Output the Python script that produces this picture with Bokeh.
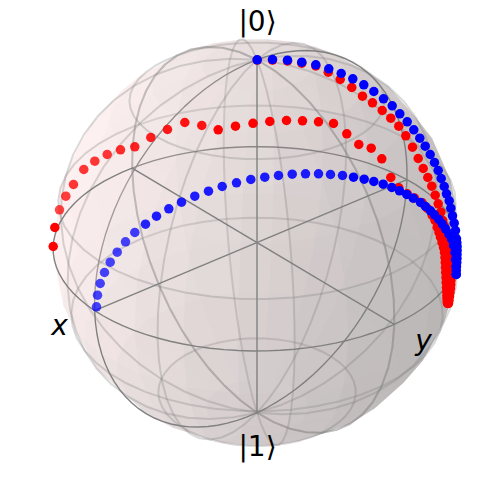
import numpy as np
from bokeh.plotting import figure
from bokeh.models import Range1d
from bokeh.embed import file_html
from bokeh.resources import INLINE
from bokeh.core.properties import value

# projected marker positions
red_arc_x = [52.7,54.3,59,65.3,73,83.3,94.3,106.7,120,134.3,150.3,167,184.3,201.3,217.7,235,252.5,269.3,286,302,318,333,346.3,358.3,370.7,381.3,390.3,398.3,406.7,414,421.7,427,431.7,434.5,436.7,438.5,440,441.5,443,444,444.5,444.8,445,445.2,445.5,445.7,446,446.2,446.4,446.5,446.7,447]
red_arc_y = [246,227,209.3,195.7,184,169,160.7,154,149.3,146.3,137,129,122,125,129.3,125.7,122.8,121,120,120.3,121.3,123,133.3,144,147.7,158.3,177,187.3,193.3,197.5,202.3,208,215,220,226.7,232,236.7,242,247,252,257,262,267,272,277,282,287,291,295,298,301,303]
red_top_x = [256.7,272,287,301.3,315.3,327.7,339.7,351.3,362,372,381.7,390.3,398.3,405.3,412,417.7,422.7,427.3,431.3,434.7,437.7,440.3,442.3,443.7,445,446,447,448,449,449.5,450,450.3,450.5,450.5,450.5,450.3,450,449.5,449,448.5,448]
red_top_y = [59.6,59.6,60.5,62.7,65.5,71.7,79,87,95.7,102.3,110,117.7,125.7,135.3,146.7,158,168,177,185.7,194.7,203.3,211.7,220,225,230,235,240,245,250,255,260,265,270,275,280,284,288,292,296,300,303]
blue_top_x = [256.7,272,287,301.3,315.3,328.3,340.7,352.3,363.3,373.3,383,391.7,399.3,406.7,413.3,419.3,424.7,429.7,434,437.7,440.7,443.7,446,448.7,450.3,452,453.7,455,456,456.3,456.5,456.5,456.5,456.5,456.3,456,455.8,455.7]
blue_top_y = [59.3,59,59.7,61.7,64.3,68.3,73,78.3,84.3,91,98.3,105.3,113.3,121.3,129.3,137.7,145.7,154,162,170,178,186,193.3,200.3,207.7,215.3,222.7,230,238.3,242,246,250,254,258,262,266,270,274]
blue_arc_x = [96,97,99.7,104,109.7,116.7,125,134.3,145,156,168.3,181,194.3,208,221.7,236,250.3,264.3,278,291.7,305,318,330,342,353,363.7,373.3,382.7,391.3,399,406.3,412.7,420,425,430,434,438.3,441.7,445,448.3,451,453,454.5,455,455.5,455.7]
blue_arc_y = [306.3,294.7,283,272,261.7,251.7,241.3,232,223.7,215.7,208.3,201.7,195.7,190.7,186,182.3,179,176.7,175,173.7,173.3,173.3,174,175,176.7,178.7,181,183.7,187,190.3,194,197.7,202,206,210.3,214.3,219,223.3,228.3,233.3,238.3,245,252,259,266,274]
pole_labels = ["|0\u27e9", "|1\u27e9"]
axis_labels = ["x", "y"]

# how much of each early marker's colour shows through the veil of the sphere
red_arc_veil = [1, 1, .72, .75, .78, .78, .78, .78, .82, .85, .88, .9, .92, .92]
blue_arc_veil = [.72, .72, .72, .72, .72, .72, .72, .75, .85, .88, .88, .88, .88, .88, .88, .88, .88, .88, .88, .88, .88, .88, .88, .9]

SPHERE = np.array([1.0, 0xDD/255, 0xDD/255])
CX, CY, R, DIST = 256.5, 242.0, 203.5, 14.0
elev, azim = np.radians(30), np.radians(-40)
right = np.array([-np.sin(azim), np.cos(azim), 0])
toward = np.array([np.cos(elev)*np.cos(azim), np.cos(elev)*np.sin(azim), np.sin(elev)])
up = np.cross(toward, right)
az, alt = np.radians(90-225), np.radians(19.4712)
light = np.array([np.cos(az)*np.cos(alt), np.sin(az)*np.cos(alt), np.sin(alt)])


def proj(X, Y, Z):
    P = np.stack([np.asarray(X, float), np.asarray(Y, float), np.asarray(Z, float)], -1)
    f = DIST/(DIST-P@toward)
    return CX+R*f*(P@right), CY-R*f*(P@up)


def hexc(c):
    return "#%02x%02x%02x" % tuple(int(round(255*t)) for t in c)


def veil(alphas, n):
    return list(alphas)+[1.0]*(n-len(alphas))


p = figure(width=484, height=484, output_backend="svg", toolbar_location=None,
           x_range=Range1d(0, 484), y_range=Range1d(484, 0), min_border=0)
p.axis.visible = False
p.grid.visible = False
p.outline_line_color = None


def surface(u0):
    u = np.linspace(u0, u0+np.pi, 25)
    v = np.linspace(0, np.pi, 25)
    X, Y, Z = np.outer(np.cos(u), np.sin(v)), np.outer(np.sin(u), np.sin(v)), np.outer(np.ones(25), np.cos(v))
    xs, ys, cols = [], [], []
    for i in range(0, 24, 2):
        for j in range(0, 24, 2):
            idx = [(i, j), (i+2, j), (i+2, j+2), (i, j+2)]
            a = np.array([X[k] for k in idx]); b = np.array([Y[k] for k in idx]); c = np.array([Z[k] for k in idx])
            n = np.array([a.mean(), b.mean(), c.mean()])
            n /= np.linalg.norm(n)
            s = 0.5+0.5*(n@light)
            sx, sy = proj(a, b, c)
            xs.append(list(sx)); ys.append(list(sy)); cols.append(hexc(SPHERE*(0.3+0.7*s)))
    p.patches(xs, ys, fill_color=cols, fill_alpha=0.22, line_color=None)
    # wireframe
    for i in [0, 5, 10, 15, 20, 24]:
        sx, sy = proj(X[i], Y[i], Z[i])
        p.line(sx, sy, line_color="gray", line_alpha=0.3, line_width=2)
        sx, sy = proj(X[:, i], Y[:, i], Z[:, i])
        p.line(sx, sy, line_color="gray", line_alpha=0.3, line_width=2)
    t = np.linspace(u0, u0+np.pi, 49)
    sx, sy = proj(np.cos(t), np.sin(t), 0*t)
    p.line(sx, sy, line_color="gray", line_width=1.4)
    sx, sy = proj(0*t, np.cos(t), np.sin(t))
    p.line(sx, sy, line_color="gray", line_width=1.4)


surface(0.0)
surface(-np.pi)

for a in [(-1, 0, 0, 1, 0, 0), (0, -1, 0, 0, 1, 0), (0, 0, -1, 0, 0, 1)]:
    sx, sy = proj([a[0], a[3]], [a[1], a[4]], [a[2], a[5]])
    p.line(sx, sy, line_color="gray", line_width=1.4)

p.scatter(red_arc_x, red_arc_y, size=9.5, fill_color="#ff0000", fill_alpha=veil(red_arc_veil, len(red_arc_x)), line_color=None)
p.scatter(red_top_x, red_top_y, size=9.5, fill_color="#ff0000", line_color=None)
p.scatter(blue_arc_x, blue_arc_y, size=9.5, fill_color="#0000ff", fill_alpha=veil(blue_arc_veil, len(blue_arc_x)), line_color=None)
p.scatter(blue_top_x, blue_top_y, size=9.5, fill_color="#0000ff", line_color=None)

p.text([257, 257], [21, 446], text=pole_labels, text_font=value("DejaVu Sans"), text_font_size="28px",
       text_align="center", text_baseline="middle", text_color="black")
p.text([59, 423], [325, 340], text=axis_labels, text_font=value("DejaVu Sans"), text_font_size="28px",
       text_font_style="italic", text_align="center", text_baseline="middle", text_color="black")

open("out.html", "w").write(file_html(p, INLINE))
